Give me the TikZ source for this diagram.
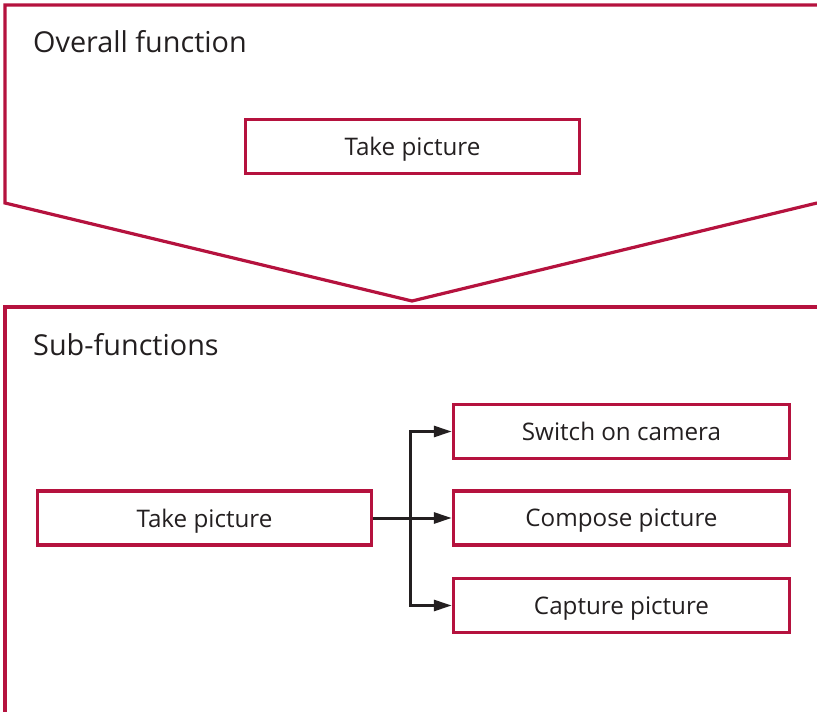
\documentclass[tikz,border=0pt]{standalone}
\usepackage{fontspec}
\setmainfont{Open Sans}
\usetikzlibrary{arrows.meta}
\definecolor{crim}{RGB}{181,18,62}
\definecolor{ink}{RGB}{35,31,32}
\begin{document}
\begin{tikzpicture}[x=1pt,y=-1pt,
  fbox/.style={draw=crim,line width=3.5pt,minimum height=54pt,inner sep=0pt,text depth=0pt,font=\fontsize{24.2}{28}\selectfont,text=ink},
  title/.style={anchor=base west,inner sep=0pt,font=\fontsize{28.8}{33}\selectfont,text=ink},
  link/.style={draw=ink,line width=3pt,-{Triangle[length=18pt,width=11pt]}}]
\useasboundingbox (0,0) rectangle (817,712);
% top frame
\draw[crim,line width=3.2pt] (817,5) -- (5,5) -- (5,203) -- (412,301) -- (817,203);
% lower frame
\draw[crim,line width=3.2pt] (817,307) -- (5,307) -- (5,712);
\node[title] (t1) at (33,52) {Overall function};
\node[title] (t2) at (33,355) {Sub-functions};
\node[fbox,minimum width=334pt] (top) at (412.5,146.5) {Take picture};
\node[fbox,minimum width=334pt] (main) at (204.5,518) {Take picture};
\node[fbox,minimum width=336pt] (s1) at (621.5,431.5) {Switch on camera};
\node[fbox,minimum width=336pt] (s2) at (621.5,518) {Compose picture};
\node[fbox,minimum width=336pt] (s3) at (621.5,605.5) {Capture picture};
\coordinate (j) at (410,518);
\draw[draw=ink,line width=3pt] (main.east) -- (j);
\draw[link] (j) |- (s1.west);
\draw[link] (j) -- (s2.west);
\draw[link] (j) |- (s3.west);
\end{tikzpicture}
\end{document}
